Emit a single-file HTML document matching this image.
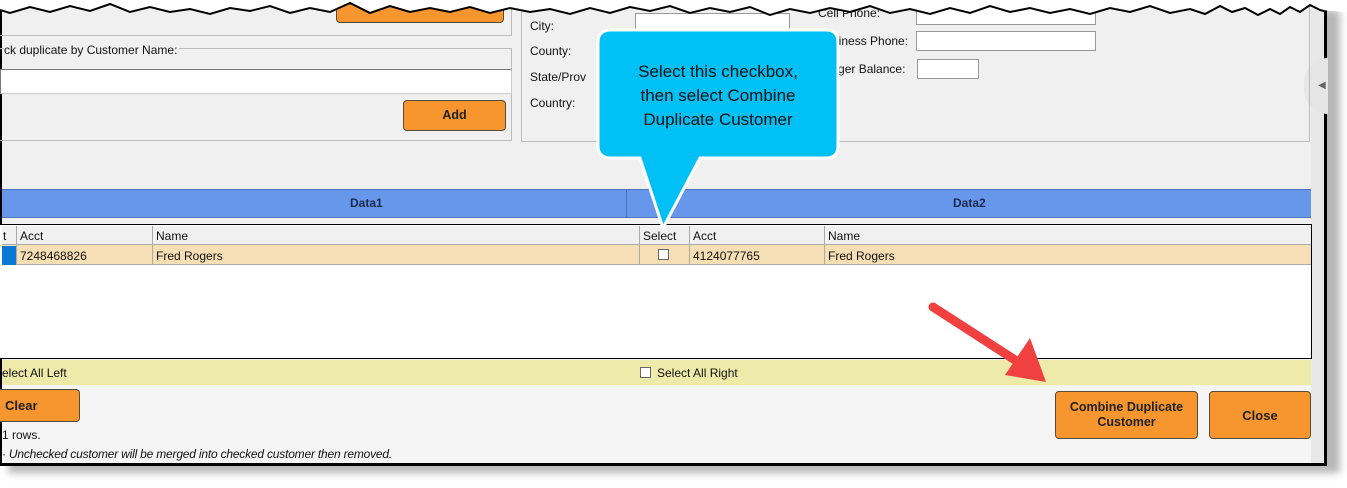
<!DOCTYPE html>
<html><head><meta charset="utf-8"><style>
*{margin:0;padding:0;box-sizing:border-box}
body{width:1347px;height:488px;background:#fff;position:relative;overflow:hidden;font-family:"Liberation Sans",sans-serif;font-size:12px;color:#111}
.a{position:absolute}
.btn{position:absolute;background:#f7962e;border:1px solid #5a4a3a;border-radius:4px;font-weight:bold;font-size:12.5px;display:flex;align-items:center;justify-content:center;text-align:center;line-height:15px;color:#222}
.inp{position:absolute;background:#fff;border:1px solid #999}
.grp{position:absolute;border:1px solid #bbb}
.cb{position:absolute;width:11px;height:11px;background:#fff;border:1px solid #666}
</style></head><body>
<!-- shadow -->
<div class="a" style="left:8px;top:10px;width:1332px;height:463px;background:#999;filter:blur(4px);opacity:.7"></div>
<!-- window -->
<div class="a" style="left:0;top:0;width:1327px;height:466px;background:#f0f0f0;border-right:3px solid #000;border-bottom:3px solid #000;border-left:2px solid #000"></div>
<div class="a" style="left:2px;top:384px;width:1310px;height:79px;background:#f5f5f5"></div>
<div class="a" style="left:1311px;top:0;width:13px;height:463px;background:#e8e8e8"></div>
<div class="a" style="left:1304px;top:58px;width:24px;height:56px;border-radius:28px 0 0 28px;background:#e6e6e6"></div>
<div class="a" style="left:1318px;top:80px;font-size:10px;color:#666">◀</div>
<!-- top left group -->
<div class="grp" style="left:-2px;top:-10px;width:514px;height:46px"></div>
<div class="btn" style="left:336px;top:-10px;width:168px;height:33px"></div>
<div class="grp" style="left:-2px;top:48px;width:514px;height:93px"></div>
<div class="a" style="left:4px;top:43px;background:#f0f0f0;padding-right:2px">ck duplicate by Customer Name:</div>
<div class="inp" style="left:0;top:69px;width:512px;height:25px;border-color:#777 #ccc #ccc #777"></div>
<div class="btn" style="left:403px;top:100px;width:103px;height:31px">Add</div>
<!-- right group -->
<div class="grp" style="left:521px;top:-10px;width:789px;height:152px"></div>
<div class="a" style="left:530px;top:19px">City:</div>
<div class="a" style="left:530px;top:44px">County:</div>
<div class="a" style="left:530px;top:70px">State/Prov</div>
<div class="a" style="left:530px;top:96px">Country:</div>
<div class="inp" style="left:635px;top:13px;width:155px;height:20px"></div>
<div class="a" style="left:818px;top:6px">Cell Phone:</div>
<div class="inp" style="left:916px;top:5px;width:180px;height:20px"></div>
<div class="a" style="left:818px;top:34px">Business Phone:</div>
<div class="inp" style="left:916px;top:31px;width:180px;height:20px"></div>
<div class="a" style="left:818px;top:62px">Ledger Balance:</div>
<div class="inp" style="left:917px;top:59px;width:62px;height:20px"></div>
<!-- blue header -->
<div class="a" style="left:2px;top:189px;width:1309px;height:29px;background:#6797ea;border-top:1px solid #4d73b8;border-bottom:1px solid #4d73b8"></div>
<div class="a" style="left:626px;top:190px;width:1px;height:27px;background:#4d73b8"></div>
<div class="a" style="left:350px;top:196px;font-weight:bold;color:#1a2a50">Data1</div>
<div class="a" style="left:953px;top:196px;font-weight:bold;color:#1a2a50">Data2</div>
<!-- grid -->
<div class="a" style="left:0;top:224px;width:1312px;height:135px;background:#fff;border:1px solid #000;border-left:none"></div>
<div class="a" style="left:2px;top:226px;width:1309px;height:19px;background:#f0f0f0;border-bottom:1px solid #aaa"></div>
<div class="a" style="left:2px;top:245px;width:1309px;height:20px;background:#f6dfb4;border-bottom:1px solid #aaa"></div>
<div class="a" style="left:2px;top:246px;width:14px;height:19px;background:#0a78d4"></div>
<div class="a" style="left:16px;top:226px;width:1px;height:39px;background:#aaa"></div>
<div class="a" style="left:152px;top:226px;width:1px;height:39px;background:#aaa"></div>
<div class="a" style="left:639px;top:226px;width:1px;height:39px;background:#aaa"></div>
<div class="a" style="left:689px;top:226px;width:1px;height:39px;background:#aaa"></div>
<div class="a" style="left:824px;top:226px;width:1px;height:39px;background:#aaa"></div>
<div class="a" style="left:3px;top:229px">t</div>
<div class="a" style="left:20px;top:229px">Acct</div>
<div class="a" style="left:156px;top:229px">Name</div>
<div class="a" style="left:643px;top:229px">Select</div>
<div class="a" style="left:693px;top:229px">Acct</div>
<div class="a" style="left:828px;top:229px">Name</div>
<div class="a" style="left:20px;top:249px">7248468826</div>
<div class="a" style="left:156px;top:249px">Fred Rogers</div>
<div class="cb" style="left:658px;top:249px"></div>
<div class="a" style="left:693px;top:249px">4124077765</div>
<div class="a" style="left:828px;top:249px">Fred Rogers</div>
<!-- yellow band -->
<div class="a" style="left:2px;top:360px;width:1309px;height:25px;background:#eeeaa9"></div>
<div class="a" style="left:2px;top:366px">elect All Left</div>
<div class="cb" style="left:640px;top:367px"></div>
<div class="a" style="left:657px;top:366px">Select All Right</div>
<!-- bottom -->
<div class="btn" style="left:-8px;top:389px;width:88px;height:33px;justify-content:flex-start;padding-left:12px;font-size:13px">Clear</div>
<div class="a" style="left:2px;top:428px">1 rows.</div>
<div class="a" style="left:2px;top:447px;font-style:italic;letter-spacing:-0.2px">· Unchecked customer will be merged into checked customer then removed.</div>
<div class="btn" style="left:1055px;top:391px;width:143px;height:48px">Combine Duplicate<br>Customer</div>
<div class="btn" style="left:1209px;top:391px;width:102px;height:48px;font-size:13px">Close</div>
<!-- torn top edge -->
<svg class="a" style="left:0;top:0" width="1347" height="30">
<polygon fill="#fff" points="0,0 1347,0 1347,12 1320,10 1310,5 1300,12 1290,7 1280,14 1270,9 1258,15 1245,8 1232,12 1220,6 1205,14 1190,9 1170,13 1150,6 1130,12 1110,8 1090,14 1070,9 1050,13 1030,8 1010,12 990,6 970,13 950,8 930,14 910,9 890,13 870,6 850,12 830,8 810,13 790,9 770,15 750,7 730,12 710,8 690,13 670,6 650,11 630,7 610,13 590,8 570,14 550,9 530,12 510,8 490,13 470,7 450,12 430,8 410,12 390,6 370,13 350,3 330,12 310,8 290,13 270,6 250,11 230,8 210,14 190,9 170,12 150,7 130,12 110,4 90,11 70,6 50,12 30,7 10,13 0,10"/>
<polyline fill="none" stroke="#000" stroke-width="2" points="0,10 10,13 30,7 50,12 70,6 90,11 110,4 130,12 150,7 170,12 190,9 210,14 230,8 250,11 270,6 290,13 310,8 330,12 350,3 370,13 390,6 410,12 430,8 450,12 470,7 490,13 510,8 530,12 550,9 570,14 590,8 610,13 630,7 650,11 670,6 690,13 710,8 730,12 750,7 770,15 790,9 810,13 830,8 850,12 870,6 890,13 910,9 930,14 950,8 970,13 990,6 1010,12 1030,8 1050,13 1070,9 1090,14 1110,8 1130,12 1150,6 1170,13 1190,9 1205,14 1220,6 1232,12 1245,8 1258,15 1270,9 1280,14 1290,7 1300,12 1310,5 1320,10 1327,12"/>
</svg>
<!-- callout -->
<svg class="a" style="left:0;top:0" width="1347" height="488">
<path d="M611,30 H826 Q838,30 838,42 V146 Q838,158 826,158 H700 L663,228 L640,158 H611 Q598,158 598,146 V42 Q598,30 611,30 Z" fill="#00c0f6" stroke="#fff" stroke-width="3"/>
<line x1="933" y1="307" x2="1015" y2="360" stroke="#f04040" stroke-width="9" stroke-linecap="round"/>
<polygon points="1005,375 1030,338 1046,382" fill="#f04040"/>
</svg>
<div class="a" style="left:598px;top:60px;width:240px;text-align:center;font-size:17px;line-height:24px;color:#111">Select this checkbox,<br>then select Combine<br>Duplicate Customer</div>
</body></html>
